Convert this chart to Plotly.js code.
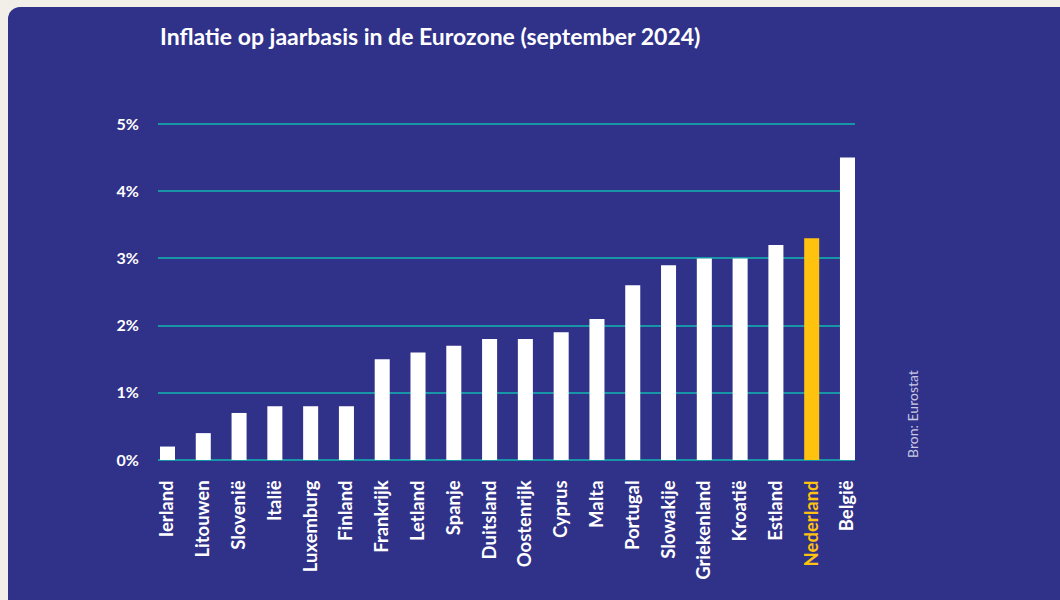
<!DOCTYPE html>
<html>
<head>
<meta charset="utf-8">
<script src="https://cdn.plot.ly/plotly-3.0.1.min.js"></script>
<style>
  html, body { margin: 0; padding: 0; width: 1060px; height: 600px; overflow: hidden; background: #F2EFE9; }
  #panel { position: absolute; left: 8px; top: 7px; width: 1080px; height: 620px; background: #303189; border-radius: 12px; }
  #chart { position: absolute; left: 0; top: 0; width: 1060px; height: 600px; }
</style>
</head>
<body>
<div id="panel"></div>
<div id="chart"></div>
<script>
const countries = ["Ierland","Litouwen","Slovenië","Italië","Luxemburg","Finland","Frankrijk","Letland","Spanje","Duitsland","Oostenrijk","Cyprus","Malta","Portugal","Slowakije","Griekenland","Kroatië","Estland","Nederland","België"];
const inflation = [0.2,0.4,0.7,0.8,0.8,0.8,1.5,1.6,1.7,1.8,1.8,1.9,2.1,2.6,2.9,3.0,3.0,3.2,3.3,4.5];
const highlight = "Nederland";
const yTickVals = [0,1,2,3,4,5];
const yTickText = ["0%","1%","2%","3%","4%","5%"];

const WHITE = "#FFFFFF";
const YELLOW = "#FFC20E";
const GRID = "#1895A6";
const idx = countries.map((c, i) => i);
const barColors = countries.map(c => c === highlight ? YELLOW : WHITE);
const tickText = countries.map(c => c === highlight ? '<span style="color:' + YELLOW + '">' + c + '</span>' : c);

const trace = {
  type: "bar",
  x: idx,
  y: inflation,
  width: 0.42,
  marker: { color: barColors, line: { width: 0 } },
  hoverinfo: "skip"
};

const layout = {
  width: 1060,
  height: 600,
  paper_bgcolor: "rgba(0,0,0,0)",
  plot_bgcolor: "rgba(0,0,0,0)",
  margin: { l: 158, r: 205, t: 122, b: 140, pad: 0 },
  showlegend: false,
  font: { family: "Lato, 'Open Sans', sans-serif", color: WHITE },
  title: {
    text: "<b>Inflatie op jaarbasis in de Eurozone (september 2024)</b>",
    font: { family: "Lato, sans-serif", size: 23, color: WHITE },
    x: 160 / 1060, xref: "container", xanchor: "left",
    y: 1 - 37 / 600, yref: "container", yanchor: "middle"
  },
  xaxis: {
    range: [-0.265, 19.21],
    tickmode: "array",
    tickvals: idx,
    ticktext: tickText,
    tickangle: -90,
    ticks: "outside",
    ticklen: 12,
    tickcolor: "rgba(0,0,0,0)",
    tickfont: { family: "Lato, sans-serif", size: 18.5, color: WHITE, weight: "bold" },
    showgrid: false,
    zeroline: false,
    showline: false,
    fixedrange: true
  },
  yaxis: {
    range: [0, 5.03],
    tickmode: "array",
    tickvals: yTickVals,
    ticktext: yTickText,
    ticks: "outside",
    ticklen: 15,
    tickcolor: "rgba(0,0,0,0)",
    tickfont: { family: "Lato, sans-serif", size: 16, color: WHITE, weight: "bold" },
    showgrid: true,
    gridcolor: GRID,
    gridwidth: 2,
    zeroline: true,
    zerolinecolor: GRID,
    zerolinewidth: 2,
    showline: false,
    fixedrange: true
  },
  annotations: [{
    text: "Bron: Eurostat",
    xref: "paper", yref: "paper",
    x: (912 - 158) / 697, y: 0,
    xanchor: "center", yanchor: "bottom",
    textangle: -90,
    showarrow: false,
    font: { family: "Lato, sans-serif", size: 14, color: "#C9C9E2" }
  }]
};

Plotly.newPlot("chart", [trace], layout, { displayModeBar: false, staticPlot: true });
</script>
</body>
</html>
